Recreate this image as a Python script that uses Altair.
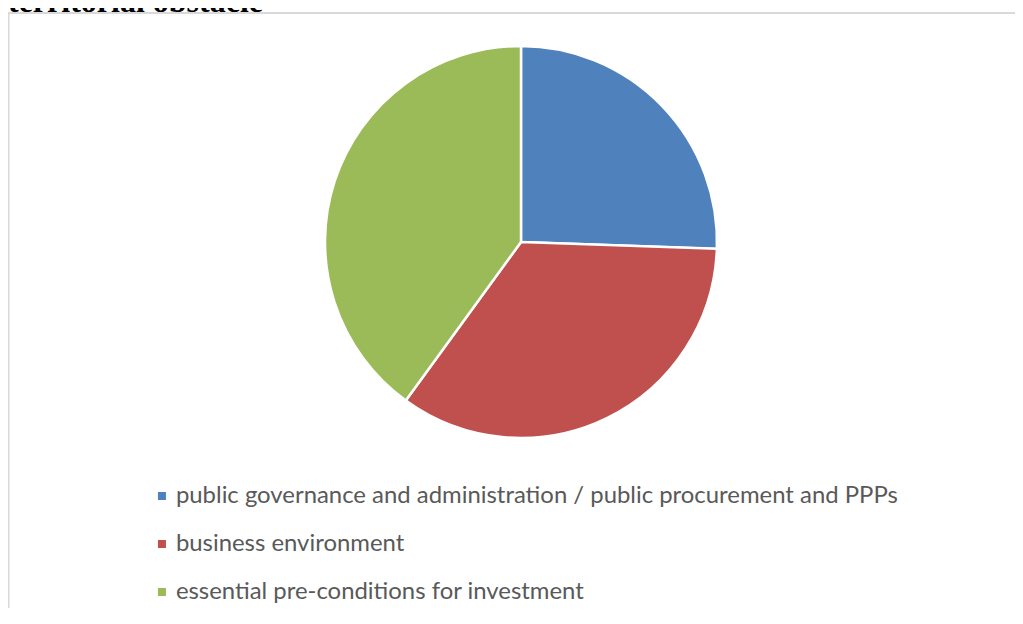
import altair as alt
import pandas as pd

categories = [
    "public governance and administration / public procurement and PPPs",
    "business environment",
    "essential pre-conditions for investment",
]
values = [23, 31, 36]
colors = ["#4F81BD", "#C0504D", "#9BBB59"]
title_text = ["territorial obstacle"]

df = pd.DataFrame({"category": categories, "value": values, "order": [0, 1, 2]})
title_df = pd.DataFrame({"t": title_text})

W, H = 1007, 600

pie = alt.Chart(df).mark_arc(outerRadius=196, stroke="white", strokeWidth=2.5).encode(
    theta=alt.Theta("value:Q", stack=True),
    order=alt.Order("order:Q"),
    x=alt.value(513),
    y=alt.value(234),
    color=alt.Color(
        "category:N",
        sort=categories,
        scale=alt.Scale(domain=categories, range=colors),
        legend=alt.Legend(
            title=None,
            orient="none",
            legendX=142,
            legendY=464,
            direction="vertical",
            symbolType="square",
            symbolSize=64,
            symbolStrokeWidth=0,
            symbolOpacity=1,
            labelFont="Lato",
            labelFontSize=23.9,
            labelColor="#595959",
            labelLimit=1000,
            labelOffset=2,
            clipHeight=48,
            rowPadding=0,
        ),
    ),
)

title = alt.Chart(title_df).mark_text(
    font="Liberation Serif", fontWeight="bold", fontSize=32, align="left",
    baseline="alphabetic", color="black"
).encode(text="t:N", x=alt.value(0), y=alt.value(4))

frame_top = alt.Chart(title_df).mark_rule(color="#d9d9d9", strokeWidth=2).encode(
    x=alt.value(0), x2=alt.value(W), y=alt.value(5)
)
frame_left = alt.Chart(title_df).mark_rule(color="#d9d9d9", strokeWidth=2).encode(
    x=alt.value(0.5), y=alt.value(4), y2=alt.value(H)
)

chart = alt.layer(frame_top, frame_left, pie, title).properties(
    width=W, height=H, padding=0, autosize=alt.AutoSizeParams(type="none")
).configure_view(stroke=None)

chart.save("out.html", embed_options={"renderer": "svg", "actions": False})
